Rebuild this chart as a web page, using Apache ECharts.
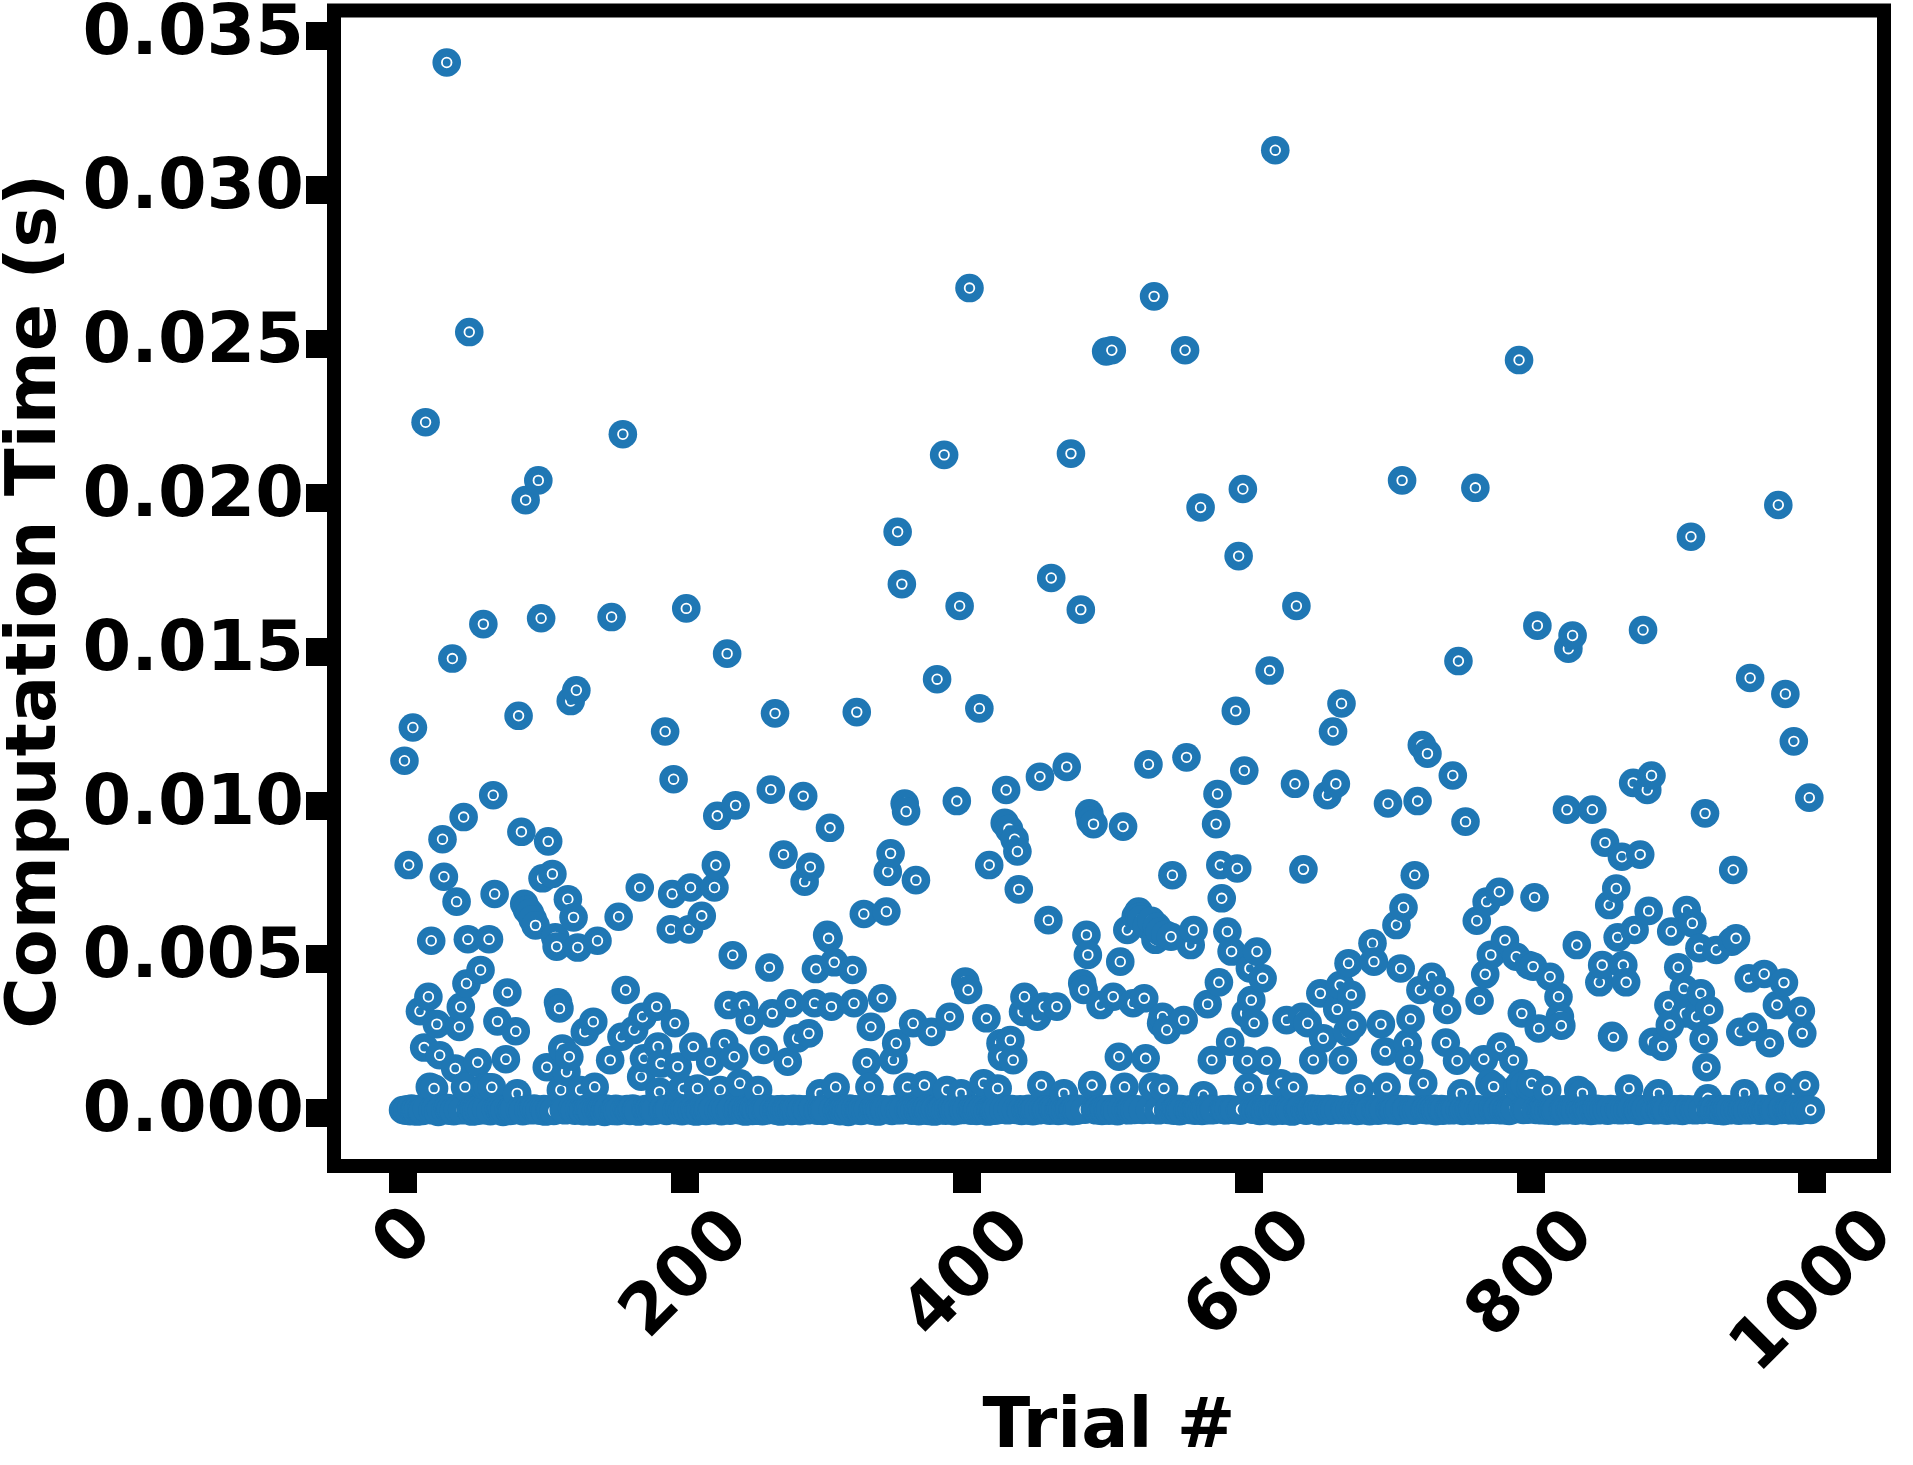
<!DOCTYPE html>
<html><head><meta charset="utf-8">
<script src="https://cdn.jsdelivr.net/npm/echarts@6/dist/echarts.min.js"></script>
<style>html,body{margin:0;padding:0;background:#fff}#chart{width:1913px;height:1465px}</style>
</head><body><div id="chart"></div>
<script>
// Tick values
const xTickValues = [0, 200, 400, 600, 800, 1000];
const yTickValues = [0, 0.005, 0.010, 0.015, 0.020, 0.025, 0.030, 0.035];
const xAxisTitle = 'Trial #';
const yAxisTitle = 'Computation Time (s)';
// Computation time (s) for each trial; index = trial number (0..999)
const times = [
.0001,.01145,.00008,.00012,.00806,.00006,.00015,.01253,.00009,.00011,.00005,.00013,.00331,.0001,.00007,.00213,.02245,.00014,.00378,.00085,
.0056,.00009,.0008,.00012,.00289,.00004,.00188,.00011,.0089,.00768,.0001,.03414,.00016,.00008,.00013,.01477,.00006,.00145,.00687,.00012,
.0028,.00345,.00009,.00962,.00085,.00421,.00565,.02538,.00011,.00005,.00014,.0001,.00007,.00165,.00012,.00465,.00009,.01589,.00085,.00013,
.00084,.00565,.00006,.00084,.01033,.00712,.00011,.00298,.00015,.00008,.00012,.00004,.0001,.00175,.00392,.00013,.00007,.00011,.00009,.00014,
.00266,.00064,.01291,.0001,.00914,.00006,.0068,.01992,.0066,.00012,.0065,.00009,.0063,.00015,.0061,.00011,.02056,.00008,.01608,.00763,
.00013,.00005,.00149,.00883,.0001,.00012,.00777,.00007,.00571,.00541,.0036,.0034,.00075,.0021,.00011,.00009,.00134,.00695,.00183,.01339,
.00014,.00636,.00008,.01374,.00538,.00012,.00075,.0001,.00006,.00264,.00013,.00009,.00016,.00011,.00005,.00297,.00085,.0001,.0056,.00012,
.00008,.00013,.00011,.00004,.00015,.00009,.00012,.00172,.01612,.00007,.0001,.00014,.00006,.00638,.00011,.00248,.02206,.00009,.004,.00013,
.0001,.00007,.00012,.00015,.0027,.00008,.00011,.00005,.00733,.00118,.00313,.00178,.00013,.0001,.00009,.00014,.00006,.00012,.0001,.00008,
.00346,.00216,.00069,.00161,.00011,.00013,.0124,.00007,.0001,.00012,.00597,.00712,.01085,.00292,.00009,.00151,.00014,.00075,.00006,.0008,
.00011,.0164,.0001,.00597,.00733,.00008,.00216,.00013,.00005,.0008,.00012,.00009,.00641,.00015,.0001,.00007,.00011,.00013,.00167,.00009,
.00012,.00733,.00806,.00966,.0001,.00075,.00006,.00014,.00227,.00011,.01493,.00351,.00008,.00012,.00513,.00183,.01,.0001,.00013,.00097,
.00009,.00011,.00351,.00005,.00014,.0001,.00302,.00012,.00007,.00016,.0001,.00008,.00075,.00013,.00011,.00006,.00205,.00012,.00009,.00014,
.00473,.01051,.00324,.0001,.01299,.00008,.00012,.00011,.00005,.00013,.0084,.0001,.00009,.00167,.00012,.00357,.00007,.00014,.0001,.00011,
.00243,.00013,.00006,.0001,.0103,.00752,.00012,.00009,.00259,.008,.00011,.00015,.00357,.00468,.00008,.0001,.00064,.00013,.00007,.00012,
.0001,.00579,.00568,.00927,.00346,.00011,.0049,.00085,.00009,.00014,.00006,.00012,.0001,.00013,.00008,.00011,.00004,.00015,.0001,.00465,
.00357,.00012,.01303,.00009,.00011,.00007,.00013,.00647,.0001,.00165,.00012,.00085,.0028,.00008,.00014,.0001,.00011,.00005,.00013,.00009,
.00373,.00012,.0001,.00655,.00784,.00011,.00844,.00007,.00172,.00013,.00227,.01889,.0001,.00009,.01719,.00012,.01006,.0098,.00085,.00011,
.00014,.00008,.00292,.0001,.00757,.00012,.00006,.00011,.00013,.00009,.00091,.0001,.00015,.00007,.00012,.00264,.00011,.00005,.00013,.0141,
.0001,.00009,.00012,.00014,.02139,.00008,.00075,.00011,.00313,.0001,.00013,.00006,.00012,.01014,.00009,.01648,.00064,.00011,.0001,.00427,
.00012,.004,.02681,.00008,.00013,.0001,.00011,.00007,.00014,.01315,.00009,.00012,.00097,.0001,.00308,.00005,.00806,.00011,.00013,.0001,
.00008,.00012,.0008,.0001,.00227,.00183,.00011,.00943,.0105,.00009,.00923,.00237,.00013,.00172,.0089,.0001,.0085,.00727,.00012,.00007,
.00329,.00378,.0001,.00011,.00014,.00008,.00012,.00006,.0001,.00013,.00313,.00009,.01093,.00091,.00011,.00346,.0001,.00012,.00627,.00008,
.01739,.00013,.0001,.00011,.00346,.00007,.00012,.00015,.0001,.00064,.00009,.01125,.00011,.00013,.02143,.00006,.0001,.00012,.00008,.00014,
.0001,.01636,.00422,.004,.00011,.00579,.00514,.00974,.0095,.00091,.00939,.00012,.00009,.0001,.00013,.00351,.00007,.00011,.0001,.02475,
.00012,.00008,.00013,.02479,.00378,.0001,.00011,.00006,.00183,.00492,.00012,.00931,.00085,.0001,.00595,.00009,.00013,.00011,.00357,.0001,
.0064,.00012,.00655,.00638,.0063,.0001,.00373,.00178,.0061,.01133,.00011,.00625,.00085,.02654,.00563,.00606,.00009,.0059,.00292,.00313,
.0008,.0058,.0027,.0001,.00012,.00573,.00773,.00008,.00011,.00014,.0001,.00006,.00013,.00009,.00302,.02479,.01156,.00011,.0001,.00546,
.00012,.00595,.00008,.00013,.0001,.00011,.01968,.00007,.00058,.00012,.0001,.00354,.00014,.00009,.00172,.00011,.0001,.00939,.01037,.00425,
.00806,.00698,.00012,.0001,.00009,.0059,.00013,.00232,.00525,.00011,.0001,.01307,.00795,.0181,.00008,.00012,.02028,.01113,.00324,.0017,
.00084,.0047,.00367,.00011,.00292,.0001,.00525,.00013,.00007,.00012,.00438,.0001,.00009,.0017,.00014,.01438,.00011,.0001,.00006,.03129,
.00012,.0001,.00013,.00097,.00008,.00011,.0001,.00302,.00014,.00009,.00012,.00005,.00085,.0107,.01648,.0001,.00011,.00013,.00313,.00792,
.0001,.00008,.00292,.00012,.00011,.00015,.00172,.0001,.00009,.00013,.00006,.00389,.00012,.00243,.0001,.00011,.01033,.00014,.00008,.0001,
.0124,.00012,.0107,.00337,.0001,.00416,.01331,.00172,.00011,.00009,.00264,.00487,.00013,.00384,.00286,.0001,.00012,.00007,.00011,.0008,
.0001,.00013,.00009,.00012,.00015,.0001,.00006,.00011,.00552,.00492,.00013,.0001,.00008,.00012,.00289,.00011,.0001,.002,.00085,.01006,
.00012,.00009,.00014,.0001,.00011,.00611,.00007,.00013,.0047,.02056,.00668,.0001,.00012,.00227,.00172,.00306,.00011,.00008,.00773,.0001,
.01014,.00013,.004,.01196,.00097,.0001,.00012,.01168,.00009,.00011,.00443,.0001,.00014,.00006,.00012,.0001,.004,.00013,.00008,.00011,
.00229,.00335,.0001,.00012,.00009,.01097,.00013,.0001,.0017,.01469,.00011,.00064,.00007,.00012,.00947,.0001,.00014,.00011,.00008,.00013,
.0001,.02032,.00625,.00012,.00365,.00009,.00011,.00175,.00451,.00687,.0001,.00097,.00514,.00013,.00086,.00011,.0001,.00012,.00719,.00216,
.00009,.00013,.00562,.0001,.00011,.00007,.00012,.0001,.00172,.00014,.00508,.00085,.02447,.00097,.00324,.0001,.00091,.00012,.00011,.00481,
.00085,.00097,.00476,.00701,.0001,.01584,.00275,.00012,.00009,.00013,.0001,.00011,.00075,.00008,.00443,.00012,.0001,.00014,.00006,.00011,
.00378,.00313,.00284,.0001,.00012,.00009,.00986,.01509,.00011,.0001,.01552,.00013,.00008,.00546,.00075,.00012,.0001,.00064,.00011,.00009,
.00013,.0001,.00012,.00007,.00986,.00011,.0001,.00014,.00009,.00425,.00012,.00481,.0001,.00879,.00011,.00008,.00676,.00013,.00251,.00246,
.0001,.0073,.00571,.00012,.00009,.00833,.00481,.00011,.00425,.0001,.0008,.00013,.00012,.01073,.00595,.0001,.00011,.00007,.0084,.00012,
.0157,.0001,.00013,.0105,.00657,.00011,.01097,.00232,.0001,.00009,.00058,.00064,.00012,.0001,.00216,.00014,.00011,.00008,.00351,.00286,
.0059,.0001,.00012,.00011,.00009,.00474,.0001,.00013,.00007,.00405,.00324,.0066,.00012,.0001,.01873,.00617,.00011,.00009,.00313,.00013,
.00536,.00389,.0001,.0024,.00974,.00149,.00048,.00335,.00012,.00011,.0001,.00014,.0053,.00008,.00012,.0001,.00011,.00006,.00013,.0001,
.00012,.00009,.00011,.00557,.0079,.0001,.00568,.00013,.00008,.00264,.0001,.00012,.00064,.00011,.00009,.00438,.01414,.0001,.0028,.00013,
.00011,.0001,.00012,.00008,.00014,.0001,.00452,.00011,.00009,.00013,.00227,.0001,.00012,.00007,.00011,.00351,.01976,.00085,.0001,.00013,
.00424,.01362,.00011,.0001,.00012,.00009,.00014,.01208,.0001,.00011,.00013,.00008,.00332,.00259,.0001,.00091,.00012,.00011,.01025,.0001
];

const FONT = 'DejaVu Sans';
const BLUE = '#1f77b4';
const points = times.map((t, i) => [i, t]);
const lbl = { fontSize: 70, fontWeight: 'bold', fontFamily: FONT, color: '#000' };

const chart = echarts.init(document.getElementById('chart'), null, { renderer: 'canvas', width: 1913, height: 1465 });

function renderItem(params, api) {
  const p = api.coord([api.value(0), api.value(1)]);
  return {
    type: 'group',
    children: [
      { type: 'circle', shape: { cx: p[0], cy: p[1], r: 14.3 }, style: { fill: BLUE } },
      { type: 'circle', shape: { cx: p[0], cy: p[1], r: 4.8 }, style: { fill: null, stroke: '#fff', lineWidth: 1.8 } }
    ]
  };
}

chart.setOption({
  backgroundColor: '#fff',
  animation: false,
  grid: {
    left: 334, right: 29, top: 10.5, bottom: 299,
    containLabel: false, outerBoundsMode: 'none',
    show: true, borderColor: '#000', borderWidth: 14, backgroundColor: 'transparent'
  },
  xAxis: {
    type: 'value', min: -49, max: 1051,
    name: xAxisTitle, nameLocation: 'middle', nameGap: 211, nameTextStyle: Object.assign({}, lbl),
    axisLine: { show: false, onZero: false },
    splitLine: { show: false },
    axisTick: { show: true, length: 27, lineStyle: { width: 28, color: '#000' }, customValues: xTickValues },
    axisLabel: {
      customValues: xTickValues, rotate: 45, align: 'center', verticalAlign: 'middle', margin: 73,
      fontSize: 70, fontWeight: 'bold', fontFamily: FONT, color: '#000',
      formatter: v => '{p' + String(v).length + '|' + v + '}',
      rich: {
        p1: Object.assign({ padding: [2.8, 0, 0, 2.8] }, lbl),
        p3: Object.assign({ padding: [55, 49.5, 0, 0] }, lbl),
        p4: Object.assign({ padding: [79, 73.6, 0, 0] }, lbl)
      }
    }
  },
  yAxis: {
    type: 'value', min: -0.00172, max: 0.03583,
    name: yAxisTitle, nameLocation: 'middle', nameRotate: 90, nameGap: 245,
    nameTextStyle: Object.assign({ padding: [0, 26, 0, 0] }, lbl),
    axisLine: { show: false, onZero: false },
    splitLine: { show: false },
    axisTick: { show: true, length: 28, lineStyle: { width: 28, color: '#000' }, customValues: yTickValues },
    axisLabel: {
      customValues: yTickValues, margin: 30, padding: [16, 0, 0, 0],
      fontSize: 70, fontWeight: 'bold', fontFamily: FONT, color: '#000',
      formatter: v => v.toFixed(3)
    }
  },
  series: [{
    type: 'custom',
    renderItem: renderItem,
    data: points,
    encode: { x: 0, y: 1 },
    clip: false
  }]
});
</script>
</body></html>
